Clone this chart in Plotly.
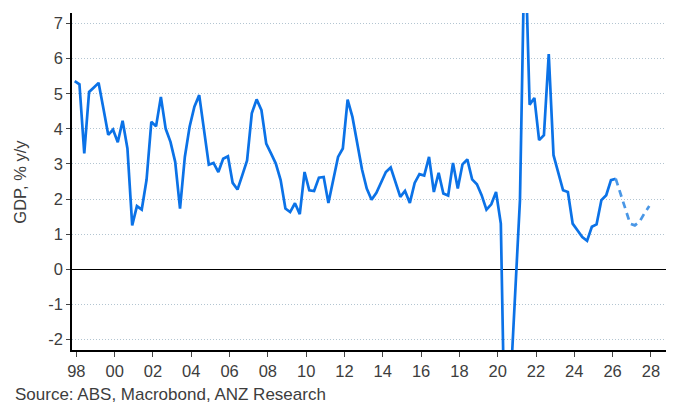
import pandas as pd
import plotly.graph_objects as go

# Quarterly GDP growth, % y/y (1997Q4 .. 2026Q1), actual
start_quarter = "1997Q4"
gdp_actual = [
    5.36, 5.27, 3.30, 5.05, 5.18, 5.31, 4.58, 3.83, 3.98, 3.62,
    4.23, 3.44, 1.25, 1.80, 1.70, 2.55, 4.20, 4.07, 4.91, 4.00,
    3.63, 3.06, 1.73, 3.20, 4.06, 4.63, 4.96, 3.96, 2.98, 3.03,
    2.77, 3.15, 3.22, 2.46, 2.27, 2.68, 3.10, 4.44, 4.84, 4.53,
    3.58, 3.30, 3.01, 2.54, 1.73, 1.63, 1.88, 1.57, 2.77, 2.25,
    2.23, 2.61, 2.63, 1.89, 2.51, 3.20, 3.44, 4.83, 4.34, 3.58,
    2.84, 2.30, 1.98, 2.18, 2.49, 2.77, 2.90, 2.49, 2.06, 2.23,
    1.89, 2.46, 2.71, 2.67, 3.20, 2.20, 2.75, 2.16, 2.10, 3.03,
    2.30, 2.99, 3.13, 2.56, 2.42, 2.11, 1.70, 1.85, 2.20, 1.30,
    -6.20, -3.30, -0.75, 1.97, 9.60, 4.69, 4.88, 3.68, 3.82, 6.13,
    3.25, 2.73, 2.25, 2.20, 1.30, 1.11, 0.92, 0.81, 1.21, 1.28,
    1.97, 2.11, 2.54, 2.58,
]
# Forecast (2026Q1 .. 2027Q4)
forecast_start = "2026Q1"
gdp_forecast = [2.58, 2.15, 1.73, 1.30, 1.25, 1.36, 1.60, 1.80]

tick_years = list(range(1998, 2029, 2))
tick_labels = [f"{y % 100:02d}" for y in tick_years]
y_ticks = [-2, -1, 0, 1, 2, 3, 4, 5, 6, 7]
y_labels = ["-2", "-1", "0", "1", "2", "3", "4", "5", "6", "7"]


def q_dates(start, n):
    per = pd.period_range(start, periods=n, freq="Q")
    # plot at the first day of the quarter's last month
    return [(p.asfreq("M", "end")).to_timestamp() for p in per]


x_act = q_dates(start_quarter, len(gdp_actual))
x_fc = q_dates(forecast_start, len(gdp_forecast))

FONT = "Liberation Sans, Arial, sans-serif"
TXT = "#3d3d3d"

fig = go.Figure()
fig.add_trace(go.Scatter(
    x=x_act, y=gdp_actual, mode="lines",
    line=dict(color="#0b72e7", width=2.7),
    hoverinfo="x+y", showlegend=False,
))
fig.add_trace(go.Scatter(
    x=x_fc, y=gdp_forecast, mode="lines",
    line=dict(color="#4a97e6", width=2.7, dash="7px,5px"),
    showlegend=False,
))

fig.update_layout(
    width=676, height=403,
    margin=dict(l=72, r=10, t=13, b=53),
    paper_bgcolor="white", plot_bgcolor="white",
    font=dict(family=FONT, size=16.5, color=TXT),
    xaxis=dict(
        type="date",
        range=["1997-10-10", "2028-10-15"],
        tickmode="array",
        tickvals=[f"{y}-01-01" for y in tick_years],
        ticktext=tick_labels,
        ticks="outside", ticklen=5, tickwidth=1, tickcolor="#444",
        showline=True, linecolor="black", linewidth=1.5,
        showgrid=False, zeroline=False,
        tickfont=dict(size=16.5, color=TXT),
    ),
    yaxis=dict(
        range=[-2.3, 7.3],
        tickmode="array", tickvals=y_ticks, ticktext=y_labels,
        ticks="outside", ticklen=4, tickwidth=1, tickcolor="#444",
        showline=True, linecolor="black", linewidth=1.5,
        showgrid=True, gridcolor="#b3c5d1", gridwidth=1, griddash="1px,2px",
        zeroline=True, zerolinecolor="black", zerolinewidth=1.3,
        tickfont=dict(size=16.5, color=TXT),
    ),
    annotations=[
        dict(text="GDP, % y/y", xref="paper", yref="paper",
             x=-0.089, y=0.5, xanchor="center", yanchor="middle",
             textangle=-90, showarrow=False,
             font=dict(size=16.5, color=TXT, family=FONT)),
        dict(text="Source: ABS, Macrobond, ANZ Research", xref="paper", yref="paper",
             x=-0.0993, y=-0.131, xanchor="left", yanchor="middle",
             showarrow=False, font=dict(size=17, color=TXT, family=FONT)),
    ],
)

fig.write_html(
    "out.html",
    config={"displayModeBar": False},
    post_script="document.body.style.margin='0';document.body.style.overflow='hidden';",
)
